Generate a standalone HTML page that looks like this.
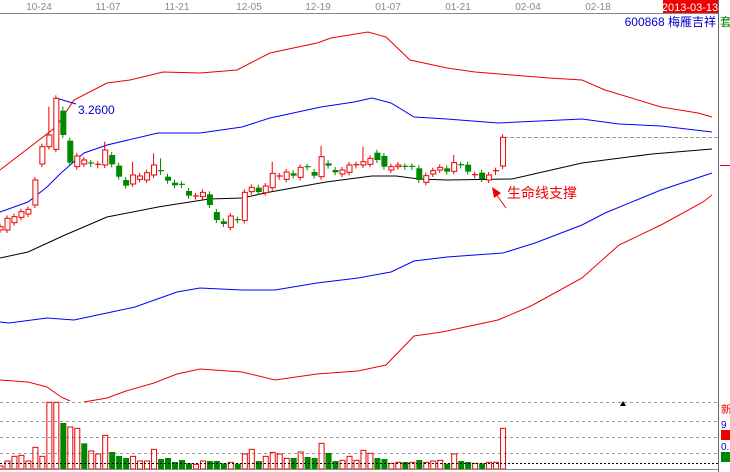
<!DOCTYPE html>
<html><head><meta charset="utf-8"><style>
html,body{margin:0;padding:0;background:#fff;}
svg{display:block;font-family:"Liberation Sans","Noto Sans CJK SC",sans-serif;}
</style></head><body>
<svg id="s" width="730" height="472" viewBox="0 0 730 472" xmlns="http://www.w3.org/2000/svg">
<rect width="730" height="472" fill="#fff"/>
<line x1="0" y1="13.5" x2="718" y2="13.5" stroke="#888"/>
<g font-size="10" fill="#888" text-anchor="middle">
<text x="39" y="10">10-24</text><text x="108" y="10">11-07</text><text x="177" y="10">11-21</text>
<text x="249" y="10">12-05</text><text x="318" y="10">12-19</text><text x="388" y="10">01-07</text>
<text x="458" y="10">01-21</text><text x="528" y="10">02-04</text><text x="598" y="10">02-18</text>
</g>
<rect x="663" y="0" width="55" height="13" fill="#e00"/>
<text x="690" y="11" font-size="11" fill="#fff" text-anchor="middle">2013-03-13</text>
<text x="716" y="26" font-size="12" fill="#00c" text-anchor="end">600868 梅雁吉祥</text>
<text x="720" y="26" font-size="12" fill="#080">套</text>
<line x1="718.5" y1="0" x2="718.5" y2="472" stroke="#666"/>
<line x1="720" y1="165.5" x2="730" y2="165.5" stroke="#e00"/>
<g fill="none" stroke-width="1">
<polyline stroke="#e00" points="0,170 56,127 74,100 107,83 130,80 163,72 200,73 237,70 270,53 317,43 331,38 368,32 386,37 410,60 447,68 475,72 512,75 549,78 582,80 605,90 661,107 698,113 712,117"/>
<polyline stroke="#00f" points="0,212 28,202 47,187 61,173 84,153 107,145 158,133 200,133 242,127 270,118 321,107 354,102 372,98 391,103 414,117 447,119 498,123 582,119 619,124 661,126 712,132"/>
<polyline stroke="#00f" points="56,98 76,104"/>
<polyline stroke="#000" points="0,258 28,252 65,235 107,217 158,207 209,199 242,198 270,192 326,182 372,176 396,176 419,179 447,180 512,179 582,163 652,154 712,149"/>
<polyline stroke="#00f" points="0,322 9,323 47,318 74,320 107,313 135,307 177,292 200,288 242,290 275,290 317,283 358,278 391,272 414,261 447,257 503,253 535,243 582,225 605,213 661,190 712,173"/>
<polyline stroke="#e00" points="0,380 28,382 47,387 61,397 70,401"/>
<polyline stroke="#e00" points="84,402 107,398 126,391 154,383 177,374 200,369 242,372 275,380 317,374 358,371 386,365 414,336 442,332 498,320 531,306 582,278 619,245 661,225 703,202 712,195"/>
</g>
<line x1="504" y1="137.5" x2="718" y2="137.5" stroke="#999" stroke-dasharray="4,2"/>
<text x="78" y="114" font-size="12" fill="#00c">3.2600</text>
<text x="507" y="198" font-size="14" fill="#e00">生命线支撑</text>
<line x1="506" y1="208" x2="496" y2="194" stroke="#e00"/>
<polygon points="492,187 501,193 494,198" fill="#e00"/>
<g stroke="#999" stroke-dasharray="3,3">
<line x1="0" y1="402.5" x2="718" y2="402.5"/><line x1="0" y1="421.5" x2="718" y2="421.5"/>
<line x1="0" y1="437.5" x2="718" y2="437.5"/><line x1="0" y1="453.5" x2="718" y2="453.5"/>
</g>
<g id="c"></g>
<line x1="0" y1="463.5" x2="718" y2="463.5" stroke="#000" stroke-dasharray="2,2"/>
<line x1="0" y1="469.5" x2="718" y2="469.5" stroke="#888"/>
<polygon points="623,401 620,406 626,406" fill="#000"/>
<text x="721" y="413" font-size="11" fill="#e00">新</text>
<text x="721" y="428" font-size="10" fill="#00c">9</text>
<rect x="721" y="430" width="9" height="10" fill="#e00"/>
<text x="721" y="450" font-size="10" fill="#00c">0.</text>
<rect x="721" y="452" width="9" height="10" fill="#080"/>
</svg>
<script>
(function(){
var vol=[258,243,229,226,243,202,229,67,67,129,141,145,190,213,222,166,216,228,234,229,243,243,208,237,234,246,240,250,253,243,243,243,250,247,251,222,208,243,229,217,222,235,234,216,231,234,190,219,243,241,229,241,211,220,234,237,250,247,246,247,240,247,243,241,251,222,243,246,250,250,247,247,145];
var vc="rrrrrrrrrgrrgrrrgggrrrrgggggrrgggrgrrgrrrrgrggrggrrrrrggrrgrgrrrgrggrgrrr";
var cd=[[680,690,'r'],[655,690,'r'],[650,668,'r'],[635,652,'r'],[628,642,'r'],[540,615,'r'],[440,492,'r'],[405,440,'r',320],[295,448,'r'],[332,405,'g',320],[422,488,'g'],[468,500,'r'],[480,492,'r'],[489,492,'g'],[493,496,'r'],[450,495,'r',425],[465,493,'g'],[497,530,'g'],[540,557,'g'],[525,552,'r',485],[528,538,'r'],[518,540,'r'],[495,525,'r',460],[512,516,'g',475],[530,542,'g'],[548,556,'g'],[553,555,'g'],[573,587,'g'],[588,590,'r'],[577,590,'r'],[583,615,'g'],[636,660,'g'],[664,672,'g'],[648,682,'r'],[659,661,'g'],[577,661,'r'],[562,575,'r'],[563,576,'g'],[558,578,'r'],[520,563,'r',485],[528,530,'r'],[516,538,'r'],[520,527,'g'],[502,532,'r'],[500,502,'g'],[516,527,'g'],[470,530,'r',437],[490,497,'g'],[510,517,'g'],[510,522,'r'],[495,517,'r'],[494,496,'r'],[485,495,'r',440],[475,493,'r'],[458,480,'g'],[468,500,'g'],[500,510,'r'],[495,500,'r'],[499,501,'g'],[499,501,'g'],[505,540,'g'],[527,547,'r'],[512,522,'r'],[502,510,'r'],[505,515,'g'],[488,514,'r',465],[494,496,'g'],[494,515,'g'],[524,526,'r'],[518,537,'g'],[525,540,'r'],[512,516,'r'],[412,498,'r']];
var h='';
for(var i=0;i<73;i++){
 var x=i*6.98, l=x-2.5;
 var vt=vol[i]/3+380;
 if(vc[i]=='r') h+='<rect x="'+(l+0.5)+'" y="'+vt+'" width="5" height="'+(469-vt)+'" fill="none" stroke="#e00"/>';
 else h+='<rect x="'+l+'" y="'+vt+'" width="6" height="'+(469.5-vt)+'" fill="#080"/>';
}
for(var i=0;i<cd.length;i++){
 var x=i*6.98, l=x-2.5;
 var d=cd[i], t=d[0]/3, b=d[1]/3, c=d[2]=='r'?'#e00':'#080';
 var hi=d[3]?d[3]/3:t-3, lo=b+3;
 h+='<line x1="'+x+'" y1="'+hi+'" x2="'+x+'" y2="'+lo+'" stroke="'+c+'"/>';
 if(b-t<1.5) h+='<line x1="'+l+'" y1="'+t+'" x2="'+(l+6)+'" y2="'+t+'" stroke="'+c+'" stroke-width="1.2"/>';
 else if(d[2]=='r') h+='<rect x="'+(l+0.5)+'" y="'+t+'" width="5" height="'+(b-t)+'" fill="#fff" stroke="#e00"/>';
 else h+='<rect x="'+l+'" y="'+t+'" width="6" height="'+(b-t)+'" fill="#080"/>';
}
document.getElementById('c').innerHTML=h;
})();
</script>
</body></html>
